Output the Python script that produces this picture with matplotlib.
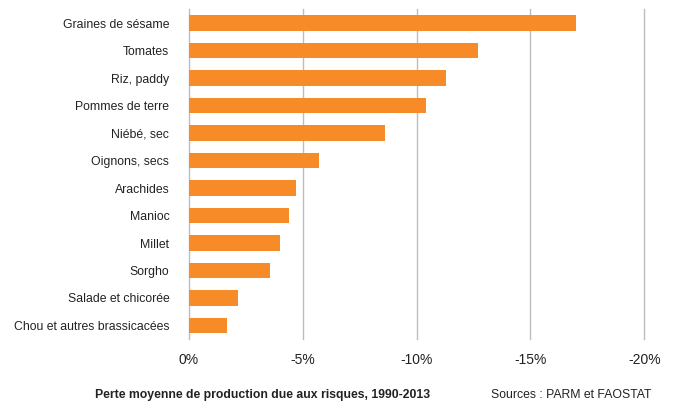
import matplotlib.pyplot as plt

cultures = ['Graines de sésame', 'Tomates', 'Riz, paddy', 'Pommes de terre',
            'Niébé, sec', 'Oignons, secs', 'Arachides', 'Manioc', 'Millet',
            'Sorgho', 'Salade et chicorée', 'Chou et autres brassicacées']
pertes = [-17.0, -12.7, -11.3, -10.4, -8.6, -5.7, -4.7, -4.4, -4.0, -3.55, -2.15, -1.7]
ticks = [0, -5, -10, -15, -20]

plt.rcParams['font.family'] = ['Liberation Sans', 'DejaVu Sans']

fig = plt.figure(figsize=(6.73, 4.03), dpi=100)
ax = fig.add_axes([0.2804, 0.1582, 0.677, 0.8188])

y = range(len(cultures))
ax.barh(y, pertes, height=0.57, color='#F68B28', zorder=3)

ax.set_xlim(0, -20)
ax.set_ylim(len(cultures) - 0.5, -0.5)
ax.set_xticks(ticks)
ax.set_xticklabels([f'{t}%' for t in ticks], fontsize=10, color='#222222')
ax.set_yticks(list(y))
ax.set_yticklabels(cultures, fontsize=8.8, color='#222222')
ax.tick_params(length=0, pad=10, axis='x')
ax.tick_params(length=0, pad=14, axis='y')

ax.grid(axis='x', color='#BDBDBD', linewidth=1.0, zorder=0)
# keep the edge gridlines (0% and -20%) from being half clipped
for gl in ax.get_xgridlines():
    gl.set_clip_on(False)
for s in ax.spines.values():
    s.set_visible(False)

fig.text(0.141, 0.02, 'Perte moyenne de production due aux risques, 1990-2013',
         fontsize=8.8, fontweight='bold', color='#222222', ha='left', va='center')
fig.text(0.73, 0.02, 'Sources : PARM et FAOSTAT', fontsize=8.8, color='#222222',
         ha='left', va='center')

fig.savefig('out.png', dpi=100)
